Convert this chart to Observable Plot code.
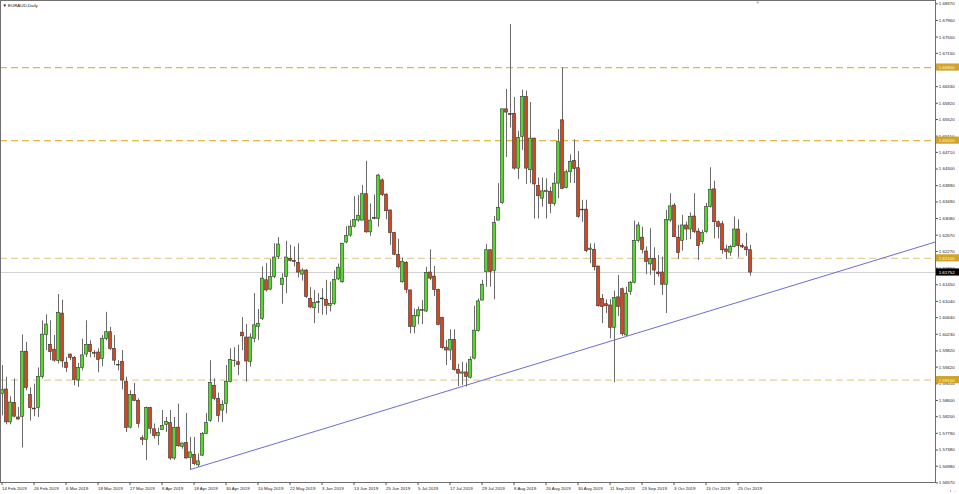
<!DOCTYPE html>
<html><head><meta charset="utf-8">
<script src="https://cdn.jsdelivr.net/npm/d3@7"></script>
<script src="https://cdn.jsdelivr.net/npm/@observablehq/plot@0.6"></script>
<style>
html,body{margin:0;padding:0;background:#fff;}
#chart{position:absolute;left:0;top:0;width:959px;height:494px;}
</style>
</head><body><div id="chart"></div>
<script>
// EURAUD Daily candles, bar index 0 = first visible bar
const opens = [1.5876,1.5887,1.5806,1.5854,1.5818,1.5819,1.5980,1.5873,1.5840,1.5841,
1.5918,1.6021,1.5997,1.5985,1.5957,1.6074,1.5953,1.5973,1.5965,1.5909,
1.5940,1.5973,1.5997,1.5977,1.5978,1.5962,1.6011,1.6028,1.5987,1.5947,
1.5955,1.5905,1.5793,1.5873,1.5859,1.5767,1.5763,1.5841,1.5789,1.5772,
1.5787,1.5800,1.5804,1.5717,1.5793,1.5745,1.5755,1.5718,1.5726,1.5700,
1.5724,1.5777,1.5810,1.5896,1.5864,1.5835,1.5851,1.5905,1.5958,1.5954,
1.6027,1.6015,1.5955,1.6012,1.6041,1.6061,1.6156,1.6133,1.6164,1.6213,
1.6144,1.6164,1.6209,1.6203,1.6199,1.6170,1.6180,1.6110,1.6087,1.6100,
1.6109,1.6108,1.6093,1.6098,1.6158,1.6151,1.6249,1.6266,1.6288,1.6303,
1.6303,1.6368,1.6274,1.6310,1.6307,1.6402,1.6367,1.6328,1.6272,1.6219,
1.6151,1.6199,1.6131,1.6041,1.6067,1.6080,1.6079,1.6175,1.6165,1.6132,
1.6063,1.5990,1.5983,1.6009,1.5935,1.5926,1.5929,1.5916,1.5963,1.6031,
1.6106,1.6176,1.6230,1.6179,1.6303,1.6346,1.6577,1.6566,1.6566,1.6431,
1.6509,1.6607,1.6427,1.6505,1.6388,1.6357,1.6373,1.6374,1.6344,1.6394,
1.6550,1.6383,1.6422,1.6450,1.6432,1.6330,1.6330,1.6231,1.6231,1.6190,
1.6110,1.6097,1.6094,1.6039,1.6114,1.6134,1.6020,1.6127,1.6150,1.6253,
1.6261,1.6227,1.6195,1.6209,1.6175,1.6175,1.6145,1.6303,1.6340,1.6261,
1.6253,1.6291,1.6281,1.6313,1.6276,1.6250,1.6275,1.6336,1.6380,1.6299,
1.6294,1.6232,1.6224,1.6238,1.6281,1.6240,1.6237,1.6230];
const highs = [1.5946,1.5917,1.5869,1.5913,1.5843,1.6021,1.6003,1.5891,1.5900,1.5940,
1.6056,1.6071,1.6056,1.6020,1.6121,1.6107,1.5966,1.5974,1.5968,1.5951,
1.6011,1.6056,1.6007,1.5983,1.5987,1.6020,1.6077,1.6040,1.6020,1.5958,
1.5983,1.5917,1.5884,1.5902,1.5864,1.5773,1.5844,1.5843,1.5802,1.5791,
1.5835,1.5818,1.5835,1.5818,1.5851,1.5755,1.5828,1.5769,1.5769,1.5728,
1.5781,1.5828,1.5958,1.5913,1.5878,1.5859,1.5946,1.5987,1.5990,1.5996,
1.6064,1.6047,1.6024,1.6123,1.6084,1.6189,1.6197,1.6207,1.6246,1.6261,
1.6172,1.6252,1.6242,1.6238,1.6246,1.6184,1.6182,1.6138,1.6131,1.6123,
1.6135,1.6156,1.6152,1.6179,1.6196,1.6247,1.6288,1.6303,1.6362,1.6365,
1.6389,1.6449,1.6344,1.6366,1.6417,1.6406,1.6369,1.6329,1.6274,1.6257,
1.6211,1.6202,1.6132,1.6085,1.6090,1.6106,1.6188,1.6231,1.6190,1.6134,
1.6065,1.6008,1.6034,1.6034,1.5949,1.5954,1.5952,1.5967,1.6092,1.6110,
1.6156,1.6244,1.6231,1.6313,1.6394,1.6578,1.6626,1.6786,1.6606,1.6523,
1.6624,1.6622,1.6594,1.6506,1.6408,1.6408,1.6406,1.6385,1.6420,1.6527,
1.6679,1.6427,1.6465,1.6502,1.6473,1.6353,1.6353,1.6246,1.6246,1.6190,
1.6121,1.6108,1.6108,1.6129,1.6168,1.6137,1.6139,1.6153,1.6302,1.6298,
1.6287,1.6238,1.6283,1.6236,1.6217,1.6213,1.6328,1.6369,1.6345,1.6291,
1.6316,1.6299,1.6322,1.6369,1.6283,1.6279,1.6345,1.6433,1.6400,1.6302,
1.6301,1.6242,1.6242,1.6312,1.6305,1.6246,1.6272,1.6242];
const lows = [1.5822,1.5800,1.5800,1.5817,1.5812,1.5743,1.5884,1.5809,1.5820,1.5818,
1.5913,1.5983,1.5958,1.5954,1.5950,1.5940,1.5929,1.5958,1.5896,1.5892,
1.5933,1.5966,1.5965,1.5965,1.5928,1.5943,1.6007,1.5983,1.5946,1.5933,
1.5886,1.5781,1.5790,1.5857,1.5792,1.5749,1.5712,1.5777,1.5765,1.5749,
1.5786,1.5781,1.5712,1.5713,1.5745,1.5740,1.5716,1.5689,1.5699,1.5695,
1.5722,1.5776,1.5806,1.5859,1.5806,1.5806,1.5827,1.5903,1.5942,1.5921,
1.5983,1.5905,1.5942,1.6002,1.6008,1.6057,1.6127,1.6130,1.6160,1.6207,
1.6097,1.6123,1.6201,1.6189,1.6162,1.6154,1.6111,1.6086,1.6049,1.6074,
1.6070,1.6070,1.6078,1.6094,1.6155,1.6149,1.6246,1.6262,1.6285,1.6299,
1.6302,1.6272,1.6264,1.6305,1.6287,1.6362,1.6305,1.6242,1.6217,1.6184,
1.6149,1.6123,1.6024,1.6024,1.6046,1.6047,1.6077,1.6155,1.6116,1.6044,
1.5986,1.5946,1.5958,1.5932,1.5894,1.5897,1.5893,1.5913,1.5960,1.6028,
1.6105,1.6139,1.6139,1.6108,1.6302,1.6343,1.6458,1.6531,1.6427,1.6404,
1.6476,1.6392,1.6394,1.6307,1.6307,1.6336,1.6307,1.6320,1.6338,1.6357,
1.6379,1.6381,1.6395,1.6394,1.6309,1.6299,1.6224,1.6197,1.6179,1.6090,
1.6049,1.6074,1.6012,1.5904,1.6067,1.6018,1.6018,1.6119,1.6147,1.6248,
1.6221,1.6170,1.6168,1.6143,1.6164,1.6119,1.6074,1.6299,1.6261,1.6207,
1.6228,1.6254,1.6256,1.6271,1.6205,1.6244,1.6272,1.6334,1.6258,1.6258,
1.6220,1.6207,1.6215,1.6236,1.6211,1.6234,1.6215,1.6166];
const closes = [1.5886,1.5806,1.5855,1.5820,1.5813,1.5980,1.5891,1.5841,1.5838,1.5918,
1.6022,1.6047,1.5979,1.5958,1.6076,1.5956,1.5940,1.5965,1.5910,1.5940,
1.5971,1.5997,1.5979,1.5975,1.5960,1.6012,1.6028,1.5987,1.5958,1.5946,
1.5909,1.5792,1.5873,1.5859,1.5802,1.5763,1.5841,1.5790,1.5772,1.5780,
1.5797,1.5807,1.5717,1.5792,1.5747,1.5754,1.5717,1.5732,1.5703,1.5710,
1.5777,1.5804,1.5903,1.5864,1.5822,1.5849,1.5905,1.5960,1.5957,1.5947,
1.6018,1.5956,1.6015,1.6045,1.6049,1.6160,1.6131,1.6164,1.6212,1.6244,
1.6160,1.6212,1.6203,1.6201,1.6175,1.6180,1.6115,1.6089,1.6100,1.6102,
1.6111,1.6093,1.6098,1.6157,1.6187,1.6246,1.6265,1.6288,1.6304,1.6315,
1.6368,1.6274,1.6303,1.6307,1.6414,1.6366,1.6326,1.6272,1.6219,1.6188,
1.6201,1.6132,1.6041,1.6068,1.6082,1.6083,1.6174,1.6160,1.6132,1.6046,
1.5989,1.5983,1.6009,1.5935,1.5926,1.5929,1.5918,1.5960,1.6032,1.6104,
1.6145,1.6230,1.6176,1.6297,1.6334,1.6577,1.6569,1.6563,1.6431,1.6506,
1.6608,1.6431,1.6505,1.6392,1.6363,1.6375,1.6376,1.6344,1.6394,1.6496,
1.6381,1.6422,1.6448,1.6430,1.6312,1.6328,1.6228,1.6234,1.6188,1.6092,
1.6090,1.6092,1.6039,1.6112,1.6090,1.6023,1.6123,1.6150,1.6253,1.6291,
1.6231,1.6201,1.6209,1.6180,1.6171,1.6145,1.6304,1.6338,1.6262,1.6223,
1.6291,1.6281,1.6312,1.6275,1.6240,1.6272,1.6336,1.6379,1.6299,1.6287,
1.6230,1.6226,1.6238,1.6281,1.6240,1.6237,1.6230,1.6175];

// date labels, one every 8 bars
const dateLabels = ["14 Feb 2019","26 Feb 2019","6 Mar 2019","18 Mar 2019","27 Mar 2019","8 Apr 2019",
"18 Apr 2019","30 Apr 2019","10 May 2019","22 May 2019","3 Jun 2019","13 Jun 2019","25 Jun 2019",
"5 Jul 2019","17 Jul 2019","29 Jul 2019","8 Aug 2019","20 Aug 2019","30 Aug 2019","11 Sep 2019",
"23 Sep 2019","3 Oct 2019","15 Oct 2019","25 Oct 2019"];
const dateStep = 8;

// right price scale labels (the one under the 1.66800 marker is hidden in the reference)
const priceTicks = [1.68370,1.67960,1.67550,1.67150,1.66330,1.65920,1.65520,1.65110,1.64710,
1.64300,1.63890,1.63490,1.63080,1.62670,1.62270,1.61860,1.61450,1.61040,1.60640,1.60230,1.59820,
1.59420,1.59010,1.58600,1.58200,1.57790,1.57380,1.56980,1.56570];

// horizontal levels
const levelsMajor = [1.66800, 1.65000];
const levelsMinor = [1.62100, 1.59100];
const lastPrice = 1.61752;

// trend line anchor points (bar index, price)
const trendBars = [47, 156];
const trendPrices = [1.5690, 1.6018];

const symbolTitle = "\u25BC EURAUD,Daily";

// ---- build ----
const candles = opens.map((o, k) => ({i: k, o, h: highs[k], l: lows[k], c: closes[k]}));
const ups = candles.filter(d => d.c >= d.o);
const downs = candles.filter(d => d.c < d.o);

const W = 959, H = 494, mR = 24, mB = 12;
const xMin = -0.5, xMax = (W - mR - 2) / 4 + xMin + 0.5; // 4 px per bar
const yMin = 1.56579, yMax = 1.68451;

const slope = (trendPrices[1] - trendPrices[0]) / (trendBars[1] - trendBars[0]);
const trend = [
  {i: trendBars[0], p: trendPrices[0]},
  {i: xMax, p: trendPrices[0] + slope * (xMax - trendBars[0])}
];

const dateTicks = dateLabels.map((_, k) => k * dateStep);
const halfBox = 3.6 * (yMax - yMin) / (H - mB);
const boxes = [
  ...levelsMajor.map(v => ({v, t: v.toFixed(5), fill: "#d0a42c", color: "#fff7dc"})),
  ...levelsMinor.map(v => ({v, t: v.toFixed(5), fill: "#d0a42c", color: "#fff7dc"})),
  {v: lastPrice, t: lastPrice.toFixed(5), fill: "#000", color: "#fff"}
];

const GREEN = "#4fdc26", RED = "#dc4420", OUT = "#333", WICK = "#6a6a6a";

const chart = Plot.plot({
  width: W, height: H,
  marginLeft: 0, marginRight: mR, marginTop: 0, marginBottom: mB,
  style: {fontFamily: "'Liberation Sans', Arial, sans-serif", fontSize: "4.4px", background: "#fff", color: "#111", overflow: "visible"},
  x: {domain: [xMin, xMax], axis: null},
  y: {domain: [yMin, yMax], axis: null},
  marks: [
    Plot.ruleY(levelsMajor, {stroke: "#e4b64a", strokeDasharray: "7,4", strokeWidth: 1.2}),
    Plot.ruleY(levelsMinor, {stroke: "#e6d09a", strokeDasharray: "7,4", strokeWidth: 1.1}),
    Plot.ruleY([lastPrice], {stroke: "#d2d2d2", strokeWidth: 1}),
    Plot.line(trend, {x: "i", y: "p", stroke: "#6c6cd8", strokeWidth: 1}),
    Plot.ruleX(candles, {x: "i", y1: "l", y2: "h", stroke: WICK, strokeWidth: 1}),
    Plot.rect(ups, {x1: d => d.i - 0.375, x2: d => d.i + 0.375, y1: "o", y2: "c", fill: GREEN, stroke: OUT, strokeWidth: 0.6}),
    Plot.rect(downs, {x1: d => d.i - 0.375, x2: d => d.i + 0.375, y1: "o", y2: "c", fill: RED, stroke: OUT, strokeWidth: 0.6}),
    Plot.frame({stroke: "#6f6f6f"}),
    Plot.axisY(priceTicks, {anchor: "right", tickSize: 2, tickPadding: 1.3, tickFormat: d => d.toFixed(5), stroke: "#555", fill: "#222"}),
    Plot.axisX(dateTicks, {anchor: "bottom", tickSize: 3, tickPadding: 1.5, tickFormat: d => dateLabels[d / dateStep], textAnchor: "start", dx: -0.5, stroke: "#555", fill: "#222"}),
    Plot.rect(boxes, {x1: () => xMax + 0.25, x2: () => xMax + 6.1, y1: d => d.v - halfBox, y2: d => d.v + halfBox, fill: d => d.fill}),
    Plot.text(boxes, {x: () => xMax + 0.8, y: "v", text: "t", textAnchor: "start", fill: d => d.color}),
    Plot.text([symbolTitle], {frameAnchor: "top-left", dx: 2, dy: 3, fill: "#111"}),
    Plot.text(["\u25BC"], {x: () => 188.8, frameAnchor: "top", dy: 0.5, fill: "#a0a0a0", fontSize: 4})
  ]
});
document.getElementById("chart").appendChild(chart);
</script>
</body></html>
